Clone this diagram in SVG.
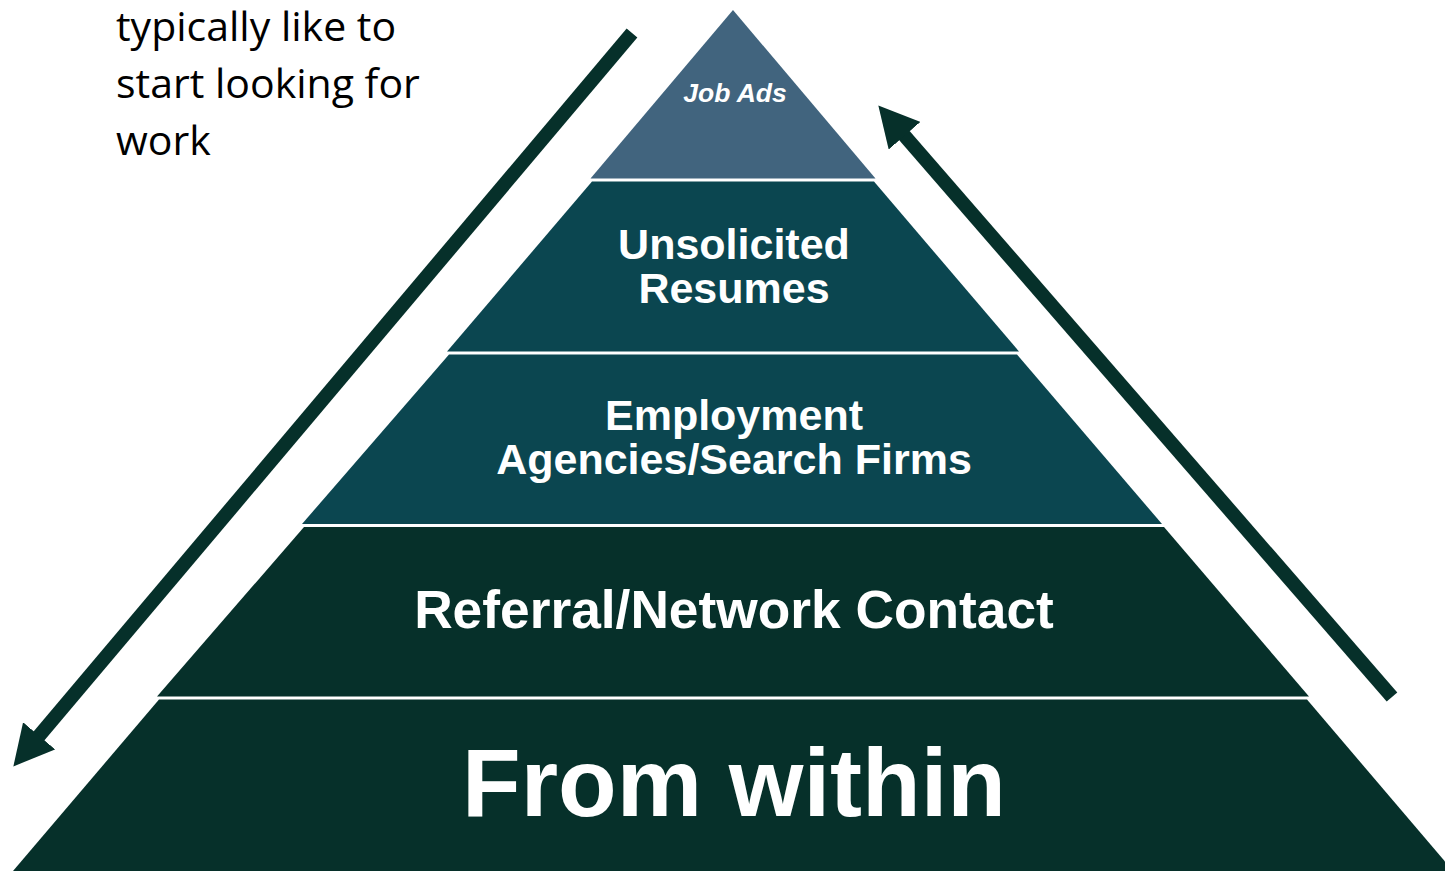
<svg xmlns="http://www.w3.org/2000/svg" width="1445" height="871" viewBox="0 0 1445 871">
  <style>
    .lbl { font-family: "Liberation Sans", Arial, sans-serif; font-weight: bold; fill: #ffffff; text-anchor: middle; }
    .note { font-family: "Open Sans", "Liberation Sans", sans-serif; fill: #000000; font-size: 41px; }
    .arrow { stroke: #06302A; stroke-width: 14; fill: none; }
  </style>
  <defs>
    <marker id="head" markerUnits="userSpaceOnUse" viewBox="0 0 40 42" markerWidth="40" markerHeight="42" refX="1" refY="21" orient="auto">
      <path d="M0,0 L40,21 L0,42 z" fill="#06302A"/>
    </marker>
  </defs>
  <rect width="1445" height="871" fill="#ffffff"/>

  <g id="note">
    <text class="note" x="116" y="41">typically like to</text>
    <text class="note" x="116" y="98">start looking for</text>
    <text class="note" x="116" y="155">work</text>
  </g>

  <g id="job-ads">
    <polygon points="733,10 875.5,178.5 590.5,178.5" fill="#41647E"/>
    <text class="lbl" x="735" y="102" font-size="26.5" font-style="italic">Job Ads</text>
  </g>
  <g id="unsolicited">
    <polygon points="592,181.5 874,181.5 1019,351.5 447,351.5" fill="#0B4650"/>
    <text class="lbl" x="734" y="259" font-size="43">Unsolicited</text>
    <text class="lbl" x="734" y="303" font-size="43">Resumes</text>
  </g>
  <g id="agencies">
    <polygon points="449,354.5 1017,354.5 1162,524 302,524" fill="#0B4650"/>
    <text class="lbl" x="734" y="430" font-size="43">Employment</text>
    <text class="lbl" x="734" y="474" font-size="43">Agencies/Search Firms</text>
  </g>
  <g id="referral">
    <polygon points="304,527 1164,527 1309,696.5 157,696.5" fill="#06302A"/>
    <text class="lbl" x="734" y="628" font-size="53.3">Referral/Network Contact</text>
  </g>
  <g id="from-within">
    <polygon points="159,699.5 1307,699.5 1453,871 13,871" fill="#06302A"/>
    <text class="lbl" x="734" y="816" font-size="96">From within</text>
  </g>

  <g id="connectors">
    <line class="arrow" x1="632" y1="33" x2="38.5" y2="736.6" marker-end="url(#head)"/>
    <line class="arrow" x1="1392" y1="697" x2="903.9" y2="135" marker-end="url(#head)"/>
  </g>
</svg>
